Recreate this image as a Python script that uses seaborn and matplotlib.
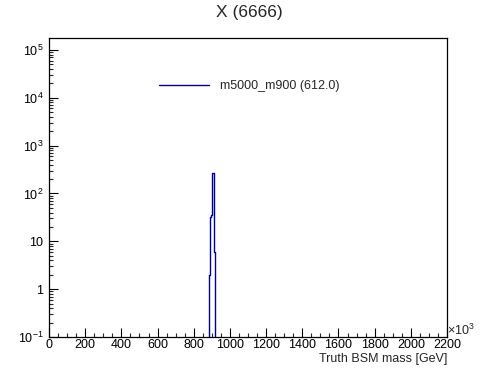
import matplotlib
matplotlib.use("Agg")
import matplotlib.pyplot as plt
import seaborn as sns
import numpy as np
from matplotlib.lines import Line2D
from matplotlib.ticker import FixedLocator, LogLocator, NullFormatter, FixedFormatter

# Data
bin_edges = [885, 890, 895, 900, 905, 910, 915]
bin_counts = [2, 33, 35, 270, 266, 6]
series_label = "m5000_m900 (612.0)"
title = "X (6666)"
xlabel = "Truth BSM mass [GeV]"
x_ticks = [0, 200, 400, 600, 800, 1000, 1200, 1400, 1600, 1800, 2000, 2200]
y_ticks = [0.1, 1, 10, 100, 1000, 10000, 100000]
y_tick_labels = [r"$10^{-1}$", "1", "10", r"$10^{2}$", r"$10^{3}$", r"$10^{4}$", r"$10^{5}$"]

sns.set_style("ticks")
plt.rcParams["font.family"] = ["Liberation Sans", "DejaVu Sans"]
plt.rcParams["mathtext.fontset"] = "custom"
plt.rcParams["mathtext.rm"] = "Liberation Sans"
plt.rcParams["mathtext.it"] = "Liberation Sans"
plt.rcParams["mathtext.default"] = "regular"

color = "#000099"
fig = plt.figure(figsize=(4.98, 3.74), dpi=100)
ax = fig.add_axes([49/498, 37/374, 398/498, 299/374])

centers = [(bin_edges[i] + bin_edges[i+1]) / 2 for i in range(len(bin_counts))]
sns.histplot(x=centers, weights=bin_counts, bins=bin_edges, element="step",
             fill=False, color=color, linewidth=1.0, ax=ax)
# vertical drops to baseline at the outer edges
ax.vlines([bin_edges[0]], 0.1, bin_counts[0], color=color, linewidth=1.0)
ax.vlines([bin_edges[-1]], 0.1, bin_counts[-1], color=color, linewidth=1.0)

ax.set_yscale("log")
ax.set_xlim(0, 2200)
ax.set_ylim(0.1, 10**5.25)
ax.set_ylabel("")
ax.set_xlabel("")

ax.xaxis.set_major_locator(FixedLocator(x_ticks))
ax.xaxis.set_minor_locator(FixedLocator(np.arange(0, 2201, 50)))
ax.set_xticklabels([str(t) for t in x_ticks])
ax.yaxis.set_major_locator(FixedLocator(y_ticks))
ax.yaxis.set_major_formatter(FixedFormatter(y_tick_labels))
ax.yaxis.set_minor_locator(LogLocator(base=10, subs=np.arange(2, 10)))
ax.yaxis.set_minor_formatter(NullFormatter())

ax.tick_params(axis="both", which="major", direction="in", length=6.5, width=0.8,
               labelsize=9, top=False, right=False, color="black", labelcolor="black")
ax.tick_params(axis="both", which="minor", direction="in", length=3.2, width=0.8,
               top=False, right=False)
ax.tick_params(axis="x", pad=1.5)
ax.tick_params(axis="y", pad=4)
for s in ax.spines.values():
    s.set_visible(True)
    s.set_linewidth(0.9)
    s.set_color("black")

fig.text(0.5, 1 - 12/374, title, ha="center", va="center", fontsize=12.5)
fig.text(447/498, 1 - 359/374, xlabel, ha="right", va="center", fontsize=9)
fig.text(447/498, 1 - 330/374, r"$\times10^{3}$", ha="left", va="center", fontsize=9)

handle = Line2D([0], [0], color=color, linewidth=1.0)
fig.legend([handle], [series_label], loc="center left",
           bbox_to_anchor=(159/498, 1 - 86/374), frameon=False, fontsize=9,
           handlelength=4.0, handletextpad=0.9, borderpad=0, borderaxespad=0)

fig.savefig("out.png", dpi=100)
